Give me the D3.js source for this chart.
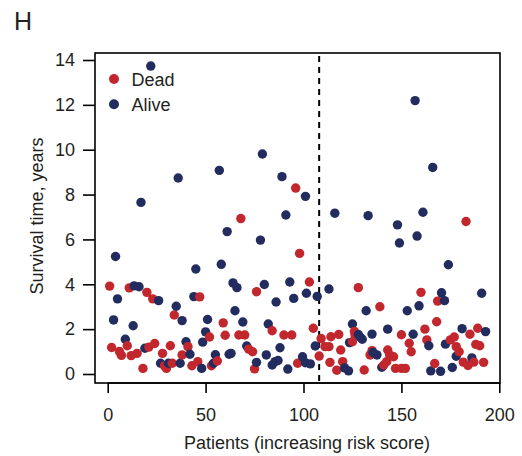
<!DOCTYPE html>
<html><head><meta charset="utf-8">
<script src="https://cdn.jsdelivr.net/npm/d3@7"></script>
<style>body{margin:0;background:#fff}svg{display:block}text{font-family:"Liberation Sans",Arial,Helvetica,sans-serif;fill:#231f20}</style>
</head><body><svg id="c" width="522" height="456"></svg>
<script>
const panelLabel = "H";
const xTicks = [0, 50, 100, 150, 200];
const yTicks = [0, 2, 4, 6, 8, 10, 12, 14];
const cutoff = 108;
const seriesNames = ["Dead", "Alive"];
const seriesColors = ["#c1272d", "#232c5e"];
const deadX = [1,2,6,7,10,11,12,15,18,20,21,23,24,28,29,30,32,33,34,38,41,43,46,47,52,53,56,59,60,67,68,70,72,74,75,76,84,90,94,96,97,98,103,105,109,108,111,113,114,113.5,117,118,119,120,125,126,126.3,128,131,134,135,139,141,142.5,143,144,146,147,150,150,152,154,155,160,162,163,167,168,168.5,175,177,178,179.5,181.6,183,184,185,187,188,189,190,192];
const deadY = [3.92,1.18,1.0,0.83,1.26,3.84,0.82,0.92,0.25,3.64,1.2,3.35,1.36,0.92,0.36,0.25,1.26,0.48,2.63,0.85,1.22,0.37,0.55,3.44,1.65,0.37,0.58,2.28,1.73,1.74,6.93,1.74,1.11,0.99,0.23,3.67,1.93,1.74,1.74,8.29,0.48,5.38,4.1,2.04,1.58,0.8,1.22,1.22,1.66,0.52,0.17,1.76,1.07,0.55,1.44,1.9,1.74,3.85,0.18,0.85,1.04,3.0,0.4,0.55,1.07,0.85,0.77,0.25,1.75,0.25,0.25,1.37,0.99,3.64,2.0,1.52,0.47,2.33,3.25,1.52,1.65,1.22,0.99,0.53,6.8,0.38,1.77,0.53,1.32,2.04,1.26,0.52];
const aliveX = [3,4,5,9,13,13.5,16,17,19,22,26,27,31,35,36,37,38,40,42,44,45,48,48.5,50,51,54,55,57,58,61,62,63,64,65,66,69,71,76,78,79,80,81,82,84,85.5,87,86,88,89,91,92,93,95,99.5,101,101,101.5,103.5,106,107,113,116,121,123,123.5,125,128,129,130,132,133,135,135.5,137.5,140,143,148,149,153,156,157,158,159,161,164,165,166,170,170.5,172,172.5,174,176,178,181,186,191,193];
const aliveY = [2.41,5.24,3.35,1.55,2.15,3.93,3.89,7.65,1.15,13.73,3.27,0.48,0.48,3.02,8.74,0.48,2.38,1.44,0.88,3.45,4.68,0.25,1.42,1.88,2.43,0.48,0.86,9.08,4.89,6.35,0.88,0.92,4.06,2.82,3.85,2.32,1.25,0.52,5.97,9.81,3.99,0.85,2.23,0.4,0.55,0.6,3.21,1.17,8.8,7.09,0.22,4.1,3.37,0.77,7.92,0.5,3.6,0.45,1.25,3.46,3.79,7.17,0.27,0.14,1.4,2.23,1.76,1.64,1.55,2.82,7.06,1.78,0.96,0.85,0.3,2.0,6.65,5.84,2.82,1.77,12.19,6.15,3.04,7.21,1.26,0.14,9.21,0.12,3.62,3.27,1.33,4.87,0.29,0.79,2.02,0.72,3.6,1.89];
const xLabel = "Patients (increasing risk score)";
const yLabel = "Survival time, years";

const svg = d3.select("#c");
const L = 95, R = 500, T = 53, B = 383;
const FS = 18;
const x = d3.scaleLinear().domain([0, 200]).range([107.7, 499.3]);
const y = d3.scaleLinear().domain([0, 14]).range([374, 60]);

svg.append("text").attr("x", 14).attr("y", 30).attr("font-size", 25).text(panelLabel);

// box
svg.append("rect").attr("x", L).attr("y", T).attr("width", R - L).attr("height", B - T)
  .attr("fill", "none").attr("stroke", "#000").attr("stroke-width", 1.6);

// axes
const yAxis = svg.append("g").attr("transform", `translate(${L},0)`)
  .call(d3.axisLeft(y).tickValues(yTicks).tickSize(12).tickPadding(8));
const xAxis = svg.append("g").attr("transform", `translate(0,${B})`)
  .call(d3.axisBottom(x).tickValues(xTicks).tickSize(10).tickPadding(15));
[yAxis, xAxis].forEach(g => {
  g.select(".domain").remove();
  g.selectAll("line").attr("stroke", "#000").attr("stroke-width", 1.6);
  g.selectAll("text").attr("font-size", FS).attr("fill", "#231f20")
   .style("font-family", '"Liberation Sans",Arial,sans-serif');
});
svg.append("line").attr("x1", x(0)).attr("x2", x(200)).attr("y1", B).attr("y2", B)
  .attr("stroke", "#000").attr("stroke-width", 1.6);

svg.append("text").attr("x", 307).attr("y", 449).attr("text-anchor", "middle")
  .attr("font-size", FS).text(xLabel);
svg.append("text").attr("transform", `translate(43,216) rotate(-90)`)
  .attr("text-anchor", "middle").attr("font-size", FS).text(yLabel);

// cutoff
svg.append("line").attr("x1", x(cutoff)).attr("x2", x(cutoff)).attr("y1", T + 3).attr("y2", B)
  .attr("stroke", "#000").attr("stroke-width", 2).attr("stroke-dasharray", "6,5");

// points
const pts = [];
deadX.forEach((v, i) => pts.push({x: v, y: deadY[i], s: 0}));
aliveX.forEach((v, i) => pts.push({x: v, y: aliveY[i], s: 1}));
pts.sort((a, b) => a.x - b.x);
svg.append("g").selectAll("circle").data(pts).join("circle")
  .attr("cx", d => x(d.x)).attr("cy", d => y(d.y)).attr("r", 4.7)
  .attr("fill", d => seriesColors[d.s]);

// legend
const lg = svg.append("g");
seriesNames.forEach((n, i) => {
  lg.append("circle").attr("cx", 114).attr("cy", 79 + i * 25.3).attr("r", 5).attr("fill", seriesColors[i]);
  lg.append("text").attr("x", 131.5).attr("y", 86 + i * 25.3).attr("font-size", FS).text(n);
});
</script></body></html>
